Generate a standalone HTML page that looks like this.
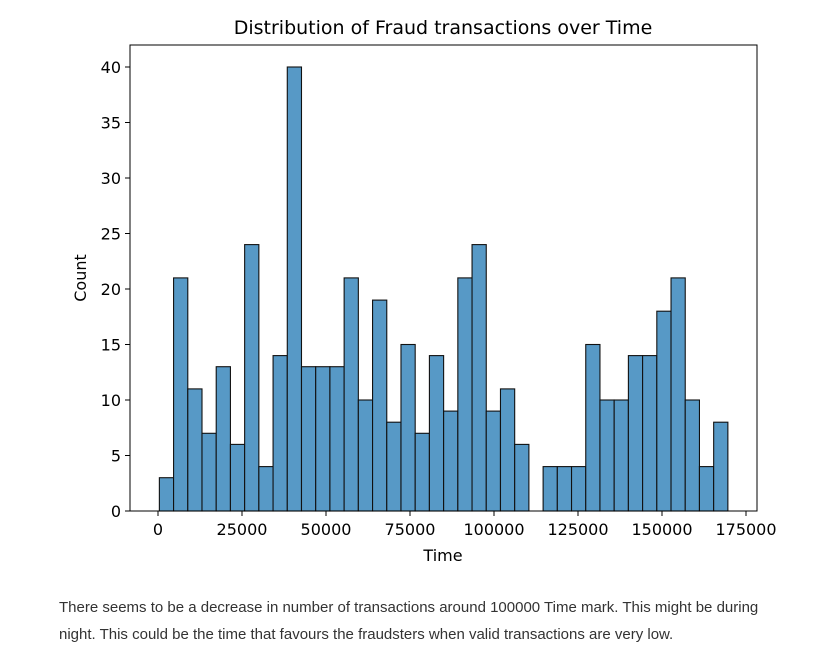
<!DOCTYPE html>
<html><head><meta charset="utf-8"><style>
body{margin:0;background:#fff;width:836px;height:656px;overflow:hidden;font-family:"DejaVu Sans",sans-serif}
#note{position:absolute;left:59px;top:594px;width:740px;font-family:"Liberation Sans",sans-serif;font-size:15px;line-height:27px;color:#333}
</style></head><body>
<svg id="chart" width="836" height="580" style="position:absolute;left:0;top:0"></svg>
<div id="note">There seems to be a decrease in number of transactions around 100000 Time mark. This might be during night. This could be the time that favours the fraudsters when valid transactions are very low.</div>
<script>
const counts=[3,21,11,7,13,6,24,4,14,40,13,13,13,21,10,19,8,15,7,14,9,21,24,9,11,6,0,4,4,4,15,10,10,14,14,18,21,10,4,8];
const binStart=406, binWidth=4230;
const xTicks=[0,25000,50000,75000,100000,125000,150000,175000];
const yTicks=[0,5,10,15,20,25,30,35,40];
const NS="http://www.w3.org/2000/svg";
const svg=document.getElementById('chart');
const L=130,R=757,T=45,B=511;
const x=v=>158+v*(84/25000);
const y=v=>B-v*11.1;
function mk(t,a,txt){const e=document.createElementNS(NS,t);for(const k in a)e.setAttribute(k,a[k]);if(txt!==undefined)e.textContent=txt;svg.appendChild(e);return e;}
counts.forEach((c,i)=>{if(!c)return;const x0=x(binStart+i*binWidth),x1=x(binStart+(i+1)*binWidth);
const r=mk('rect',{x:x0,y:y(c),width:x1-x0,height:y(0)-y(c),fill:'#5799c6',stroke:'#111','stroke-width':1.1});

});
const ax=mk('rect',{x:L,y:T,width:R-L,height:B-T,fill:'none',stroke:'#000','stroke-width':1});


xTicks.forEach(v=>{mk('line',{x1:x(v),x2:x(v),y1:B,y2:B+5,stroke:'#000'});
const t=mk('text',{x:x(v),y:B+24,'text-anchor':'middle','font-size':16,fill:'#000'},v);

});
yTicks.forEach(v=>{mk('line',{x1:L-5,x2:L,y1:y(v),y2:y(v),stroke:'#000'});
const t=mk('text',{x:L-9,y:y(v)+6,'text-anchor':'end','font-size':16,fill:'#000'},v);

});
const xt=mk('text',{x:443,y:561,'text-anchor':'middle','font-size':16},'Time');


const yt=mk('text',{x:86,y:278,'text-anchor':'middle','font-size':16,transform:'rotate(-90 86 278)'},'Count');


const ti=mk('text',{x:443,y:34,'text-anchor':'middle','font-size':19},'Distribution of Fraud transactions over Time');


</script>
</body></html>
